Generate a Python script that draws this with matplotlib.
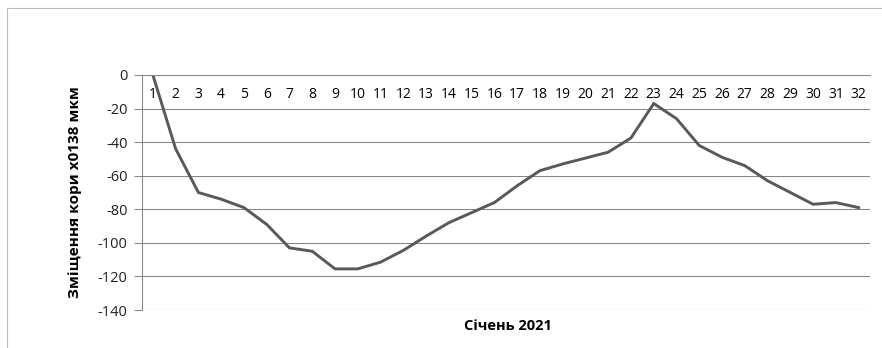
import matplotlib
matplotlib.use('Agg')
import matplotlib.pyplot as plt
from matplotlib.patches import Rectangle

plt.rcParams['font.family'] = ['Open Sans', 'DejaVu Sans']

# днi сiчня 2021
days = list(range(1, 33))
day_labels = [str(d) for d in days]
# змiщення кори, мкм
shift = [0, -44, -70, -74, -79, -89, -103, -105, -115.5, -115.5,
         -111.5, -104.5, -96, -88, -82, -76, -66, -57, -53, -49.5,
         -46, -37.5, -17, -26, -42, -49, -54, -63, -70, -77,
         -76, -79]
yticks = [0, -20, -40, -60, -80, -100, -120, -140]

LINE = '#595959'
GRID = '#868686'

W, H = 882, 348
fig = plt.figure(figsize=(W / 100, H / 100), dpi=100)
ax = fig.add_axes([141.5 / W, 38 / H, (870 - 141.5) / W, 235 / H])

ax.plot(days, shift, color=LINE, lw=2.1, solid_joinstyle='miter')

ax.set_xlim(0.5, 32.5)
ax.set_ylim(-140, 0)
ax.set_yticks(yticks)
ax.set_yticklabels([str(v) for v in yticks], fontsize=10.5, color='#202020')
ax.set_xticks(days)
ax.set_xticklabels(day_labels, fontsize=10.5, color='#202020')

ax.grid(axis='y', color=GRID, lw=0.75)
ax.set_axisbelow(True)

# вiсь X проходить через 0
ax.spines['top'].set_visible(False)
ax.spines['right'].set_visible(False)
ax.spines['bottom'].set_position(('data', 0))
ax.spines['bottom'].set_color(GRID)
ax.spines['bottom'].set_linewidth(0.75)
ax.spines['left'].set_color(GRID)
ax.spines['left'].set_linewidth(0.75)
ax.tick_params(axis='x', length=0, pad=9)
ax.tick_params(axis='y', length=6, width=0.75, color=GRID, pad=4)
ax.axhline(-140, color=GRID, lw=0.75)

fig.text(75 / W, 1 - 192 / H, 'Зміщення кори x0138 мкм', fontsize=11,
         fontweight='bold', rotation=90, ha='center', va='center')
fig.text(508 / W, 1 - 326 / H, 'Січень 2021', fontsize=10.5,
         fontweight='bold', ha='center', va='center')

# рамка дiаграми
fig.patches.append(Rectangle((7 / W, -0.1), 1.2, 1 - 8 / H + 0.1,
                             transform=fig.transFigure, fill=False,
                             edgecolor='#bfbfbf', lw=0.8))

fig.savefig('out.png', dpi=100)
plt.close()
